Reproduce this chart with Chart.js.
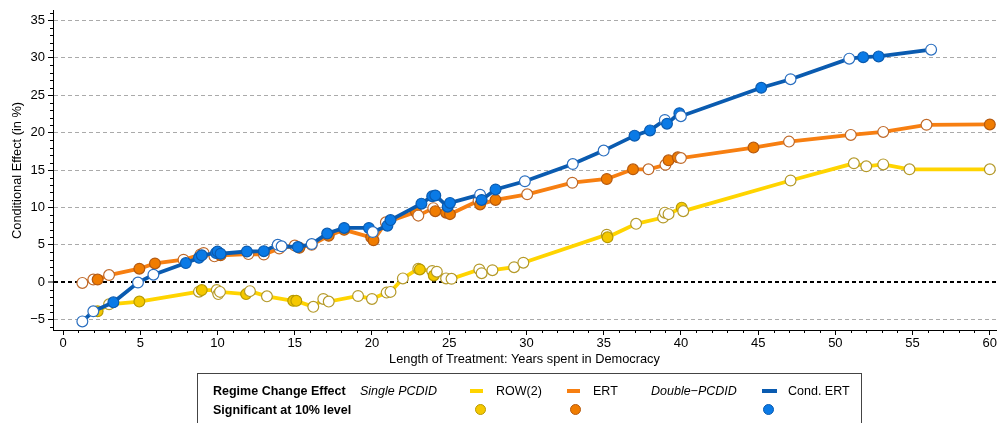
<!DOCTYPE html>
<html><head><meta charset="utf-8">
<script src="https://cdn.jsdelivr.net/npm/chart.js@4.4.1/dist/chart.umd.min.js"></script>
<style>
html,body{margin:0;padding:0;background:#fff;}
#wrap{position:relative;width:998px;height:423px;overflow:hidden;font-family:"Liberation Sans",Arial,sans-serif;}
canvas{position:absolute;left:0;top:0;}
#lbox{position:absolute;left:197px;top:373px;width:665px;height:70px;border:1px solid #444;box-sizing:border-box;}
.t{position:absolute;font-size:12.5px;line-height:15px;color:#000;white-space:nowrap;}
.b{font-weight:bold;}
.i{font-style:italic;}
.dash{position:absolute;height:4px;width:13px;}
.dot{position:absolute;width:11px;height:11px;border-radius:50%;box-sizing:border-box;border:1px solid;}
</style>
</head><body>
<div id="wrap">
<canvas id="c" width="998" height="423"></canvas>
<div id="lbox"></div>
<span class="t b" style="left:213px;top:384px">Regime Change Effect</span>
<span class="t i" style="left:360px;top:384px">Single PCDID</span>
<div class="dash" style="left:470px;top:389px;background:#ffd400"></div>
<span class="t" style="left:496px;top:384px">ROW(2)</span>
<div class="dash" style="left:567px;top:389px;background:#f77f11"></div>
<span class="t" style="left:593px;top:384px">ERT</span>
<span class="t i" style="left:651px;top:384px">Double−PCDID</span>
<div class="dash" style="left:762px;top:389px;width:15px;background:#0a5bb0"></div>
<span class="t" style="left:788px;top:384px">Cond. ERT</span>
<span class="t b" style="left:213px;top:403px">Significant at 10% level</span>
<div class="dot" style="left:475px;top:404px;background:#f5c800;border-color:#b89a00"></div>
<div class="dot" style="left:570px;top:404px;background:#f07c00;border-color:#b55a10"></div>
<div class="dot" style="left:763px;top:404px;background:#0a7ae6;border-color:#0a5bb0"></div>
</div>
<script>
// ---- data ----
const xTicks = [0,5,10,15,20,25,30,35,40,45,50,55,60];
const yTicks = [-5,0,5,10,15,20,25,30,35];

const rowX = [2.24,2.98,4.94,8.8,8.98,9.95,10.05,10.16,11.85,12.1,13.2,14.9,15.1,16.2,16.85,17.2,19.1,20.0,20.95,21.2,22.0,23.0,23.1,23.9,24.0,24.2,24.8,25.15,26.95,27.1,27.8,29.2,29.8,35.2,35.25,37.1,38.85,38.96,39.2,40.05,40.15,47.1,51.2,52.0,53.1,54.8,60.0];
const rowY = [-3.9,-2.96,-2.6,-1.28,-1.06,-1.06,-1.6,-1.3,-1.6,-1.2,-1.9,-2.5,-2.5,-3.3,-2.25,-2.6,-1.85,-2.25,-1.4,-1.3,0.5,1.8,1.7,1.5,0.9,1.4,0.5,0.45,1.7,1.2,1.6,2.0,2.6,6.35,6.0,7.8,8.65,9.3,9.1,9.97,9.5,13.6,15.9,15.5,15.75,15.1,15.1];
const rowSig = [1,0,1,0,1,0,0,0,1,0,0,1,1,0,0,0,0,0,0,0,0,0,1,0,1,0,0,0,0,0,0,0,0,0,1,0,0,0,0,1,0,0,0,0,0,0,0];

const ertX = [1.25,1.96,2.24,2.98,4.94,5.95,7.8,8.9,9.1,9.8,10.2,12.0,13.0,14.0,15.0,15.3,16.1,17.2,18.2,19.95,20.1,20.9,22.85,23.0,23.97,24.1,24.8,25.05,26.9,27.0,28.0,30.05,32.97,35.2,36.9,37.9,39.0,39.2,39.8,40.0,44.7,47.0,51.0,53.1,55.9,60.0];
const ertY = [-0.1,0.35,0.35,0.95,1.8,2.5,3.0,3.7,3.9,3.45,3.6,3.75,3.7,4.5,4.9,4.6,5.0,6.2,7.0,6.0,5.6,8.0,9.4,8.9,9.9,9.5,9.3,9.1,10.9,10.4,11.0,11.75,13.3,13.8,15.1,15.1,15.7,16.3,16.7,16.6,18.0,18.8,19.7,20.1,21.05,21.1];
const ertSig = [0,0,1,0,1,1,0,0,0,0,1,0,0,0,0,1,0,1,1,1,1,0,1,0,0,1,1,1,0,1,1,0,0,1,1,0,0,1,1,0,1,0,0,0,0,1];

const condX = [1.25,1.96,3.26,4.85,5.85,7.95,8.8,8.98,9.9,10.0,10.2,11.9,13.0,13.9,14.15,15.2,16.1,17.1,18.2,19.8,20.05,21.0,21.2,23.2,23.9,24.1,24.9,25.05,27.0,27.1,28.0,29.9,33.0,35.0,37.0,38.0,38.96,39.1,39.9,40.0,45.2,47.1,50.9,51.8,52.8,56.2];
const condY = [-5.25,-3.9,-2.7,-0.05,1.0,2.55,3.25,3.6,3.9,4.1,3.8,4.1,4.15,5.0,4.8,4.7,5.1,6.5,7.25,7.25,6.7,7.55,8.3,10.5,11.5,11.6,10.1,10.6,11.7,11.0,12.4,13.5,15.8,17.6,19.6,20.3,21.7,21.2,22.6,22.2,26.0,27.15,29.9,30.1,30.2,31.1];
const condSig = [0,0,1,0,0,1,1,1,1,1,1,1,1,0,0,1,0,1,1,1,0,1,1,1,1,1,1,1,0,1,1,0,0,0,1,1,0,1,1,0,1,0,0,1,1,0];

// ---- chart ----
const FAM = '"Liberation Sans", Arial, sans-serif';
function mk(label, xs, ys, sig, line, fill, fillBorder, openBorder, order){
  return {
    label, order,
    data: xs.map((x,i)=>({x:x, y:ys[i]})),
    borderColor: line, borderWidth: 3.8, tension: 0, fill: false,
    pointRadius: 5.4, pointBorderWidth: 1.2,
    pointBackgroundColor: sig.map(s=>s?fill:'#ffffff'),
    pointBorderColor: sig.map(s=>s?fillBorder:openBorder)
  };
}
const axisExtras = {
  id:'axisExtras',
  afterDraw(chart){
    const {ctx, scales:{x,y}, chartArea:a} = chart;
    ctx.save(); ctx.strokeStyle='#000'; ctx.lineWidth=1; ctx.beginPath();
    for(let v=Math.ceil(y.min); v<=y.max; v++){
      if(v%5===0) continue;
      const p=Math.round(y.getPixelForValue(v))+0.5;
      ctx.moveTo(a.left-3,p); ctx.lineTo(a.left,p);
    }
    for(let v=Math.ceil(x.min); v<=x.max; v++){
      if(v%5===0) continue;
      const p=Math.round(x.getPixelForValue(v))+0.5;
      ctx.moveTo(p,a.bottom); ctx.lineTo(p,a.bottom+3);
    }
    ctx.stroke();
    ctx.fillStyle='#000'; ctx.font='13px '+FAM; ctx.textAlign='center'; ctx.textBaseline='top';
    xTicks.forEach(v=>{ ctx.fillText(String(v), x.getPixelForValue(v), a.bottom+7); });
    ctx.restore();
  }
};
new Chart(document.getElementById('c'), {
  type:'line',
  data:{datasets:[
    mk('ROW(2)', rowX,rowY,rowSig,'#ffd400','#f5c800','#b89a00','#b59a2a',2),
    mk('ERT', ertX,ertY,ertSig,'#f77f11','#f07c00','#b55a10','#c06a2a',1),
    mk('Cond. ERT', condX,condY,condSig,'#0a5bb0','#0a7ae6','#0a5bb0','#2a6fc0',0)
  ]},
  options:{
    responsive:false, animation:false, events:[],
    layout:{autoPadding:false, padding:{left:0,right:2,top:8,bottom:0}},
    plugins:{legend:{display:false}, tooltip:{enabled:false}},
    scales:{
      x:{
        type:'linear', min:-0.65, max:60.4,
        afterBuildTicks: s=>{ s.ticks = xTicks.map(v=>({value:v})); },
        afterFit: s=>{ s.height = 93; },
        grid:{drawOnChartArea:false, drawTicks:true, tickLength:5, tickColor:'#000'},
        border:{display:true, color:'#000', width:1},
        ticks:{display:false},
        title:{display:true, text:'Length of Treatment: Years spent in Democracy', color:'#000', font:{size:12.8, family:FAM}, padding:{top:0,bottom:56}}
      },
      y:{
        type:'linear', min:-6.4, max:36.3,
        afterBuildTicks: s=>{ s.ticks = yTicks.map(v=>({value:v})); },
        afterFit: s=>{ s.width = 53; },
        grid:{
          color: c=> (c.tick && c.tick.value===0) ? '#000' : '#aaaaaa',
          lineWidth: c=> (c.tick && c.tick.value===0) ? 2 : 1,
          drawTicks:true, tickLength:5, tickColor:'#000', tickWidth:1
        },
        border:{display:true, color:'#000', width:1, dash:[4,3]},
        ticks:{color:'#000', font:{size:13, family:FAM}, padding:3,
          callback: v=> v<0 ? '\u2212'+Math.abs(v) : String(v)},
        title:{display:true, text:'Conditional Effect (in %)', color:'#000', font:{size:12.8, family:FAM}, padding:{top:10,bottom:0}}
      }
    }
  },
  plugins:[axisExtras]
});
</script>
</body></html>
